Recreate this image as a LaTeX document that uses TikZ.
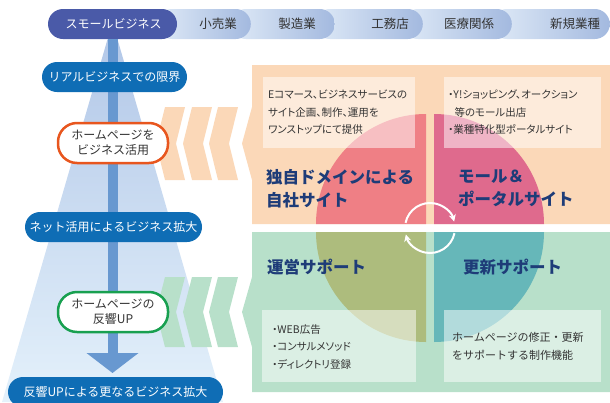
\documentclass[tikz,border=0pt]{standalone}
\usepackage{fontspec}
\setmainfont{Noto Sans CJK JP}
\newfontfamily\pfont{Noto Sans CJK JP}[RawFeature=+palt]
\usetikzlibrary{arrows.meta}
\definecolor{tabdark}{HTML}{4A5AA8}
\definecolor{tablight}{HTML}{DFEAF7}
\definecolor{tabmid}{HTML}{A3B9DF}
\definecolor{trunktop}{HTML}{B3C8E8}
\definecolor{trunkbot}{HTML}{E4F1FB}
\definecolor{lineblue}{HTML}{6898D0}
\definecolor{pillblue}{HTML}{0F6DB5}
\definecolor{peach}{HTML}{FBD8B8}
\definecolor{mint}{HTML}{B8E0CA}
\definecolor{qpink}{HTML}{EF7F85}
\definecolor{qmag}{HTML}{DF6A8D}
\definecolor{qolive}{HTML}{ADBC7D}
\definecolor{qteal}{HTML}{66B7B9}
\definecolor{navy}{HTML}{1E3C78}
\definecolor{txt}{HTML}{333333}
\definecolor{orng}{HTML}{E8561E}
\definecolor{grn}{HTML}{18A050}
\newcommand\mychev[4]{%
  \fill[#4] ({#1+9},#2) -- ({#1+29},#2) -- ({#1+20},{(#2+#3)/2}) -- ({#1+29},#3) -- ({#1+9},#3) -- (#1,{(#2+#3)/2}) -- cycle;}
\begin{document}
\begin{tikzpicture}[x=1pt,y=-1pt,
  tabshape/.style={rounded corners=15pt, minimum height=30pt, inner sep=0pt, anchor=east, left color=tablight, right color=tabmid},
  tabtext/.style={font=\fontsize{12.5}{14}\selectfont, text=txt, inner sep=0pt},
  pill/.style={fill=pillblue, rounded corners=15pt, minimum height=30pt, inner sep=0pt, text=white, font=\fontsize{12}{14}\selectfont},
  hpbox/.style={fill=white, line width=2.5pt, rounded corners=19pt, minimum width=110pt, minimum height=40pt, inner sep=0pt, align=center, font=\fontsize{12}{15}\selectfont, text=txt},
  notebox/.style={fill=white, fill opacity=0.5, inner sep=0pt, anchor=north west},
  ntext/.style={anchor=west, align=left, font=\pfont\fontsize{10.5}{17.5}\selectfont, text=txt, inner sep=0pt},
  titletext/.style={anchor=west, align=left, font=\fontsize{16.5}{23}\selectfont\bfseries, text=navy, inner sep=0pt},
  circarrow/.style={white, line width=2pt, -{Stealth[length=7pt,width=7pt]}}
]
\clip (0,0) rectangle (610,402);
% tabs (right to left)
\node[tabshape, minimum width=118pt] (t5) at (610,24) {};
\node[tabshape, minimum width=109pt] (t4) at (512,24) {};
\node[tabshape, minimum width=108pt] (t3) at (423,24) {};
\node[tabshape, minimum width=104pt] (t2) at (335,24) {};
\node[tabshape, minimum width=94pt] (t1) at (251,24) {};
\node[rounded corners=15pt, minimum height=30pt, minimum width=129pt, inner sep=0pt, fill=tabdark] (t0) at (112.5,24) {};
\node[tabtext, text=white, font=\fontsize{12}{14}\selectfont] (l0) at (113.5,24) {スモールビジネス};
\node[tabtext] (l1) at (218,24) {小売業};
\node[tabtext] (l2) at (297,24) {製造業};
\node[tabtext] (l3) at (390,24) {工務店};
\node[tabtext] (l4) at (469,24) {医療関係};
\node[tabtext] (l5) at (575,24) {新規業種};
% trunk
\shade[top color=trunktop, bottom color=trunkbot] (107.6,39) -- (117.4,39) -- (223,402) -- (2,402) -- cycle;
\coordinate (tip) at (112.5,373);
\draw[lineblue, line width=10pt, -{Triangle[width=51pt,length=20pt]}] (t0.south) -- (tip);
% chevrons and panels
\mychev{156}{107}{180}{peach}
\mychev{183}{107}{180}{peach}
\mychev{209}{107}{180}{peach}
\mychev{156}{277}{347}{mint}
\mychev{183}{277}{347}{mint}
\mychev{209}{277}{347}{mint}
\fill[peach] (252,65) -- (610,65) -- (610,224) -- (252,224) -- (252,180) -- (242,143.5) -- (252,107) -- cycle;
\fill[mint] (252,232) -- (610,232) -- (610,392) -- (252,392) -- (252,347) -- (242,312) -- (252,277) -- cycle;
% quadrants
\fill[qpink] (426,224) -- ++(-110pt,0) arc[start angle=180, end angle=90, radius=110pt] -- cycle;
\fill[qmag] (434,224) -- ++(110pt,0) arc[start angle=0, end angle=90, radius=110pt] -- cycle;
\fill[qolive] (426,232) -- ++(-110pt,0) arc[start angle=180, end angle=270, radius=110pt] -- cycle;
\fill[qteal] (434,232) -- ++(110pt,0) arc[start angle=0, end angle=-90, radius=110pt] -- cycle;
% note boxes
\node[notebox, minimum width=152pt, minimum height=71pt] (b1) at (263,77) {};
\node[notebox, minimum width=157pt, minimum height=71pt] (b2) at (444,77) {};
\node[notebox, minimum width=154pt, minimum height=72pt] (b3) at (262,310) {};
\node[notebox, minimum width=157pt, minimum height=72pt] (b4) at (444,310) {};
\node[ntext] (n1) at (268,112.5) {Eコマース、ビジネスサービスの\\サイト企画、制作、運用を\\ワンストップにて提供};
\node[ntext] (n2) at (448,112.5) {・Y!ショッピング、オークション\\\hspace{0.6em}等のモール出店\\・業種特化型ポータルサイト};
\node[ntext] (n3) at (272,347) {・WEB広告\\・コンサルメソッド\\・ディレクトリ登録};
\node[ntext, font=\fontsize{11}{17.5}\selectfont] (n4) at (452,346.5) {ホームページの修正・更新\\をサポートする制作機能};
\node[titletext] (h1) at (266,188.5) {独自ドメインによる\\自社サイト};
\node[titletext] (h2) at (458,188.5) {モール＆\\ポータルサイト};
\node[titletext] (h3) at (267,267) {運営サポート};
\node[titletext] (h4) at (463,267) {更新サポート};
% circular arrows
\coordinate (cc) at (430,228);
\draw[circarrow] ([shift={(168:25pt)}]cc) arc[start angle=168, end angle=15, radius=25pt];
\draw[circarrow] ([shift={(-12:25pt)}]cc) arc[start angle=-12, end angle=-165, radius=25pt];
% left column
\node[pill, minimum width=145pt] (p1) at (114.5,77) {リアルビジネスでの限界};
\node[pill, minimum width=177pt] (p2) at (113.5,227) {ネット活用によるビジネス拡大};
\node[pill, minimum width=215pt] (p3) at (115.5,392) {反響UPによる更なるビジネス拡大};
\node[hpbox, draw=orng] (w1) at (113,143) {ホームページを\\ビジネス活用};
\node[hpbox, draw=grn] (w2) at (113,312) {ホームページの\\反響UP};
\end{tikzpicture}
\end{document}
